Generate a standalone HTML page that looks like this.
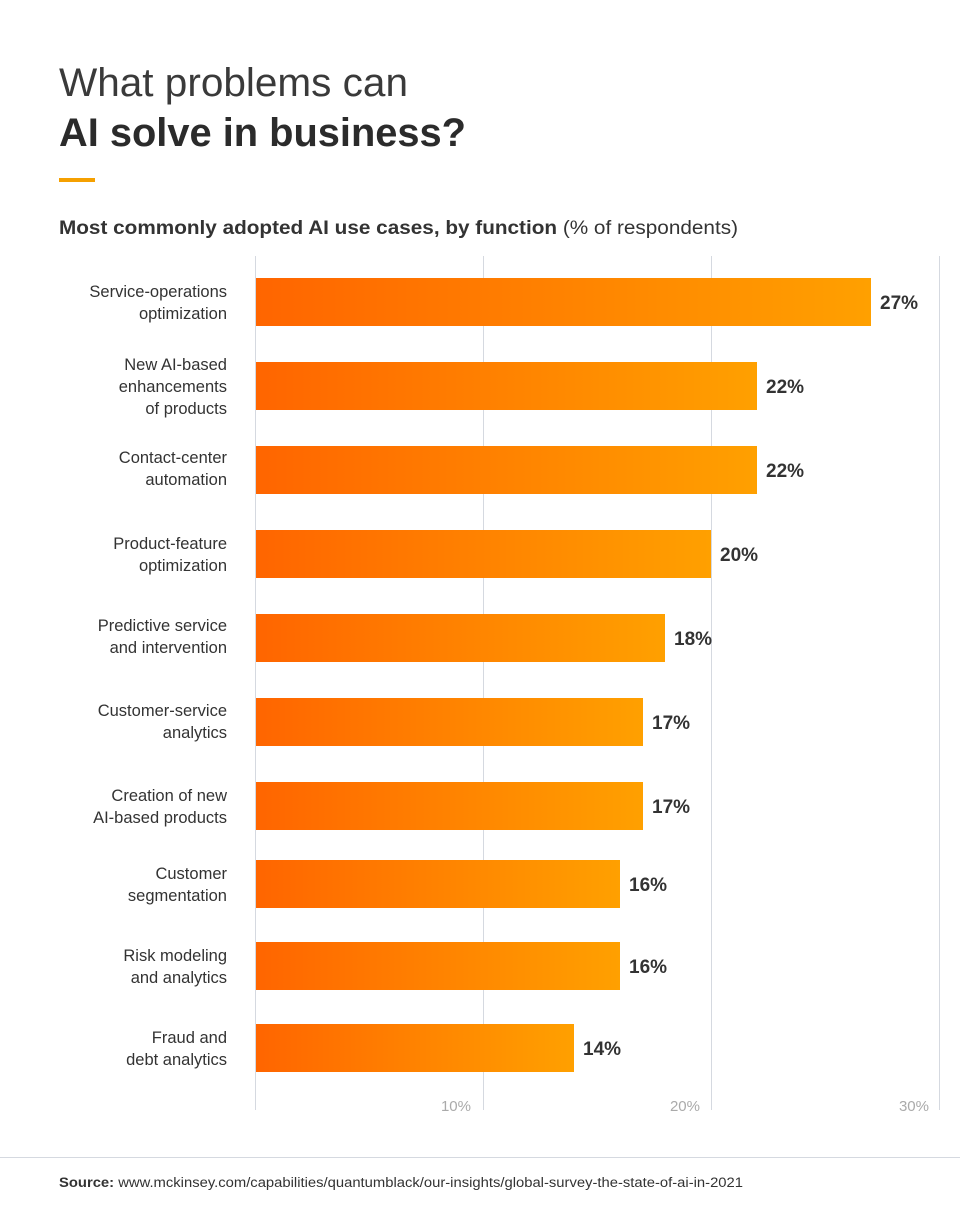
<!DOCTYPE html>
<html><head><meta charset="utf-8"><style>
body{margin:0;background:#fff;width:960px;height:1207px;overflow:hidden;font-family:"Liberation Sans",sans-serif;}
</style></head><body>
<svg width="960" height="1207" xmlns="http://www.w3.org/2000/svg" font-family="Liberation Sans, sans-serif">
<defs><linearGradient id="g" x1="0" x2="1" y1="0" y2="0"><stop offset="0" stop-color="#ff6500"/><stop offset="1" stop-color="#ffa000"/></linearGradient></defs>
<text x="59" y="96" font-size="40" fill="#3a3a3a" textLength="349" lengthAdjust="spacingAndGlyphs">What problems can</text>
<text x="59" y="146" font-size="40" font-weight="bold" fill="#2b2b2b" textLength="407" lengthAdjust="spacingAndGlyphs">AI solve in business?</text>
<rect x="59" y="178" width="36" height="4" fill="#f5a000"/>
<text x="59" y="234" font-size="19" fill="#333" textLength="679" lengthAdjust="spacingAndGlyphs"><tspan font-weight="bold">Most commonly adopted AI use cases, by function</tspan> (% of respondents)</text>
<g stroke="#d5d9e0" stroke-width="1">
<line x1="255.5" y1="256" x2="255.5" y2="1110"/><line x1="483.5" y1="256" x2="483.5" y2="1110"/><line x1="711.5" y1="256" x2="711.5" y2="1110"/><line x1="939.5" y1="256" x2="939.5" y2="1110"/>
<line x1="0" y1="1157.5" x2="960" y2="1157.5"/>
</g>
<g font-size="15" fill="#aaa" text-anchor="end">
<text x="471" y="1111">10%</text><text x="700" y="1111">20%</text><text x="929" y="1111">30%</text>
</g>
<g fill="url(#g)">
<rect x="256" y="278" width="615" height="48"/>
<rect x="256" y="362" width="501" height="48"/>
<rect x="256" y="446" width="501" height="48"/>
<rect x="256" y="530" width="455" height="48"/>
<rect x="256" y="614" width="409" height="48"/>
<rect x="256" y="698" width="387" height="48"/>
<rect x="256" y="782" width="387" height="48"/>
<rect x="256" y="860" width="364" height="48"/>
<rect x="256" y="942" width="364" height="48"/>
<rect x="256" y="1024" width="318" height="48"/>
</g>
<g font-size="19" font-weight="bold" fill="#333">
<text x="880" y="309">27%</text><text x="766" y="393">22%</text><text x="766" y="477">22%</text><text x="720" y="561">20%</text><text x="674" y="645">18%</text><text x="652" y="729">17%</text><text x="652" y="813">17%</text><text x="629" y="891">16%</text><text x="629" y="973">16%</text><text x="583" y="1055">14%</text>
</g>
<g font-size="16.5" fill="#333" text-anchor="end">
<text x="227" y="297">Service-operations</text><text x="227" y="319">optimization</text>
<text x="227" y="370">New AI-based</text><text x="227" y="392">enhancements</text><text x="227" y="414">of products</text>
<text x="227" y="463">Contact-center</text><text x="227" y="485">automation</text>
<text x="227" y="549">Product-feature</text><text x="227" y="571">optimization</text>
<text x="227" y="631">Predictive service</text><text x="227" y="653">and intervention</text>
<text x="227" y="716">Customer-service</text><text x="227" y="738">analytics</text>
<text x="227" y="801">Creation of new</text><text x="227" y="823">AI-based products</text>
<text x="227" y="879">Customer</text><text x="227" y="901">segmentation</text>
<text x="227" y="961">Risk modeling</text><text x="227" y="983">and analytics</text>
<text x="227" y="1043">Fraud and</text><text x="227" y="1065">debt analytics</text>
</g>
<text x="59" y="1187" font-size="13.5" fill="#333" textLength="684" lengthAdjust="spacingAndGlyphs"><tspan font-weight="bold">Source:</tspan> www.mckinsey.com/capabilities/quantumblack/our-insights/global-survey-the-state-of-ai-in-2021</text>
</svg>
</body></html>
